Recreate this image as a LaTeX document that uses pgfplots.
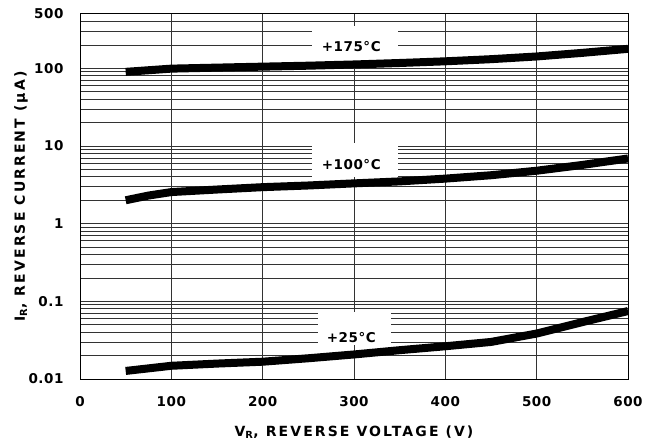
\documentclass[border=0pt]{standalone}
\usepackage{pgfplots}
\pgfplotsset{compat=1.18}
\usepackage{fontspec}
\setmainfont{DejaVu Sans}[LetterSpace=4]
\newfontfamily\labelfont{DejaVu Sans}[LetterSpace=15]
\usetikzlibrary{calc}

\begin{document}
\begin{tikzpicture}[font=\fontsize{13.5bp}{16bp}\selectfont\bfseries]
\begin{axis}[
    name=ax,
    scale only axis,
    width=548bp, height=365bp,
    xmin=0, xmax=600,
    ymode=log, ymin=0.01, ymax=500,
    xtick={0,100,...,600},
    ytick={0.01,0.1,1,10,100},
    yticklabels={0.01,0.1,1,10,100},
    extra y ticks={500},
    extra y tick labels={500},
    extra y tick style={grid=none},
    minor ytick={0.02,0.03,0.04,0.05,0.06,0.07,0.08,0.09,
                 0.2,0.3,0.4,0.5,0.6,0.7,0.8,0.9,
                 2,3,4,5,6,7,8,9,
                 20,30,40,50,60,70,80,90,
                 200,300,400},
    xmajorgrids, ymajorgrids, yminorgrids,
    major grid style={black!80, line width=0.8bp},
    minor grid style={black!80, line width=0.8bp},
    axis line style={black, line width=1bp},
    tick style={draw=none},
    major tick length=0pt, minor tick length=0pt,
    /pgf/number format/assume math mode=true,
    xticklabel style={anchor=north, yshift=-14bp},
    yticklabel style={anchor=east, xshift=-13bp},
    every axis x label/.style={at={(axis description cs:0.5,0)}, anchor=center, yshift=-53bp,
        font=\labelfont\fontsize{14bp}{16bp}\selectfont\bfseries},
    every axis y label/.style={at={(axis description cs:0,0.5)}, anchor=center, xshift=-59bp, rotate=90,
        font=\labelfont\fontsize{14bp}{16bp}\selectfont\bfseries},
    xlabel={V\textsubscript{R}, REVERSE VOLTAGE (V)},
    ylabel={I\textsubscript{R}, REVERSE CURRENT (µA)},
]

% label boxes hide the grid behind the text
\node[fill=white, inner sep=0pt, minimum width=86bp, minimum height=42bp] at (axis cs:301,190) {};
\node at (axis cs:297,188) {+175°C};
\node[fill=white, inner sep=0pt, minimum width=86bp, minimum height=34bp] at (axis cs:301,6.6) {};
\node at (axis cs:297,5.7) {+100°C};
\node[fill=white, inner sep=0pt, minimum width=73bp, minimum height=33bp] at (axis cs:301,0.0444) {};
\node at (axis cs:297,0.0345) {+25°C};

% +175 C
\addplot[black, line width=8bp, no marks] coordinates {
    (50,90) (100,99) (150,102) (200,105) (250,108) (300,112)
    (350,117) (400,123) (450,131) (500,142) (550,158) (600,178)};

% +100 C
\addplot[black, line width=8bp, no marks] coordinates {
    (50,2.0) (75,2.3) (100,2.55) (150,2.75) (200,2.95) (250,3.1)
    (300,3.3) (350,3.5) (400,3.8) (450,4.2) (500,4.8) (550,5.7) (600,6.9)};

% +25 C
\addplot[black, line width=8bp, no marks] coordinates {
    (50,0.0127) (100,0.0148) (150,0.0158) (200,0.0167) (250,0.0185) (300,0.0207)
    (350,0.0235) (400,0.0264) (450,0.030) (500,0.0385) (550,0.054) (600,0.075)};

\end{axis}
\pgfresetboundingbox
\path ($(ax.south west)+(-80bp,-66bp)$) rectangle ($(ax.north east)+(22bp,14bp)$);
\end{tikzpicture}
\end{document}
